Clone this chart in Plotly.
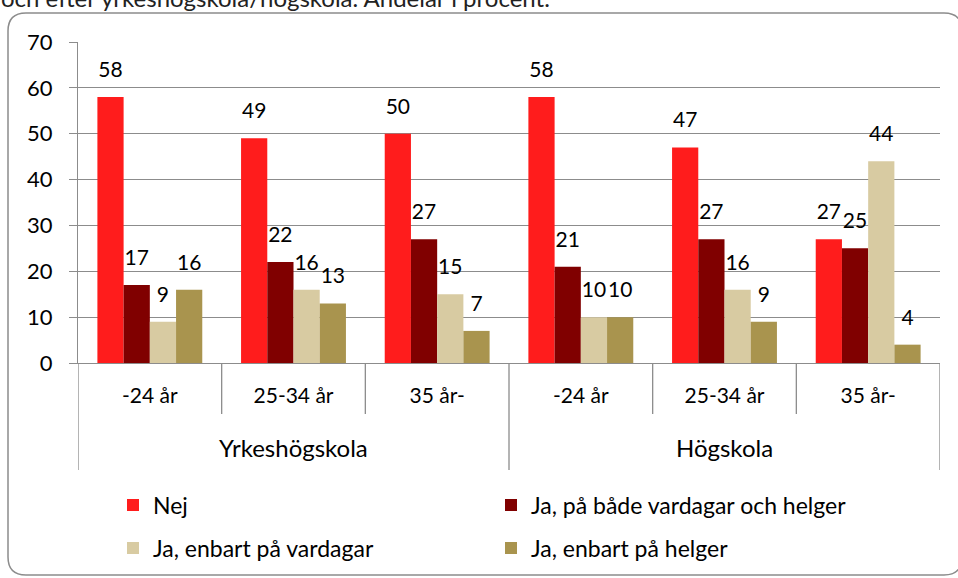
import plotly.graph_objects as go

groups = ["Yrkeshögskola", "Högskola"]
ages = ["-24 år", "25-34 år", "35 år-", "-24 år", "25-34 år", "35 år-"]

series_names = ["Nej", "Ja, på både vardagar och helger",
                "Ja, enbart på vardagar", "Ja, enbart på helger"]
nej = [58, 49, 50, 58, 47, 27]
ja_bada = [17, 22, 27, 21, 27, 25]
ja_vardagar = [9, 16, 15, 10, 16, 44]
ja_helger = [16, 13, 7, 10, 9, 4]
colors = ["#FF1C1C", "#800000", "#D8CBA2", "#A9944E"]
legend_ids = ["legend", "legend", "legend2", "legend2"]

y_ticks = [0, 10, 20, 30, 40, 50, 60, 70]

FONT = "Lato, 'Open Sans', sans-serif"
FS = 21
GRID = "#8C8C8C"
W, H = 958, 578
ML, MR, MT, MB = 78, 18, 42, 215
PW, PH = W - ML - MR, H - MT - MB

def px(x):
    return (x - ML) / PW

def py(y):
    return (H - MB - y) / PH

xpos = list(range(len(ages)))
n_per_group = len(ages) // len(groups)

fig = go.Figure()
for i, (name, vals, col, lg) in enumerate(zip(series_names, [nej, ja_bada, ja_vardagar, ja_helger], colors, legend_ids)):
    fig.add_trace(go.Bar(
        x=xpos, y=vals, name=name, offsetgroup=str(i), legend=lg,
        marker=dict(color=col, line=dict(width=0)),
    ))
for i, vals in enumerate([nej, ja_bada, ja_vardagar, ja_helger]):
    fig.add_trace(go.Scatter(
        x=xpos, y=vals, offsetgroup=str(i), mode="markers+text",
        marker=dict(size=22, opacity=0), text=[str(v) for v in vals],
        textposition="top center", showlegend=False, hoverinfo="skip",
        textfont=dict(family=FONT, size=FS, color="#000000"), cliponaxis=False,
    ))

# rounded border (right edge runs off the page, as in the original)
L, T, R, B, r = 8, 13, 962, 575, 18
rx, ry = r / PW, r / PH
path = (f"M {px(L)+rx},{py(T)} L {px(R)-rx},{py(T)} Q {px(R)},{py(T)} {px(R)},{py(T)-ry} "
        f"L {px(R)},{py(B)+ry} Q {px(R)},{py(B)} {px(R)-rx},{py(B)} "
        f"L {px(L)+rx},{py(B)} Q {px(L)},{py(B)} {px(L)},{py(B)+ry} "
        f"L {px(L)},{py(T)-ry} Q {px(L)},{py(T)} {px(L)+rx},{py(T)} Z")
fig.add_shape(type="path", path=path, xref="paper", yref="paper",
              line=dict(color="#8C8C8C", width=1.5), layer="below")

# category dividers under the x axis
for k in range(len(ages) + 1):
    xb = k - 0.5
    outer = (k % n_per_group == 0)
    fig.add_shape(type="line", xref="x", yref="paper", x0=xb, x1=xb,
                  y0=0, y1=py(470 if outer else 414),
                  line=dict(color=GRID, width=1.3))

# outer group labels
for g, name in enumerate(groups):
    fig.add_annotation(text=name, xref="x", yref="paper",
                       x=g * n_per_group + (n_per_group - 1) / 2, y=py(447),
                       xanchor="center", yanchor="middle", showarrow=False,
                       font=dict(family=FONT, size=24, color="#000000"))

fig.add_annotation(text="och efter yrkeshögskola/högskola. Andelar i procent.",
                   xref="paper", yref="paper", x=px(-1), y=py(-3),
                   xanchor="left", yanchor="middle", showarrow=False,
                   font=dict(family=FONT, size=24, color="#222222"))

leg_common = dict(orientation="h", xanchor="left", yanchor="middle",
                  xref="container", yref="container",
                  entrywidth=333, entrywidthmode="pixels",
                  font=dict(family=FONT, size=23, color="#000000"),
                  bgcolor="rgba(0,0,0,0)", itemclick=False, itemdoubleclick=False)

fig.update_layout(
    width=W, height=H,
    margin=dict(l=ML, r=MR, t=MT, b=MB),
    paper_bgcolor="white", plot_bgcolor="white",
    barmode="group", bargap=0.27, bargroupgap=0,
    scattermode="group", scattergap=0.27,
    font=dict(family=FONT, size=FS, color="#000000"),
    showlegend=True,
    legend=dict(x=113 / W, y=1 - 505 / H, **leg_common),
    legend2=dict(x=113 / W, y=1 - 548 / H, **leg_common),
)
fig.update_yaxes(range=[0, 70], tickvals=y_ticks, showgrid=True, gridcolor=GRID,
                 gridwidth=1.3, showline=True, linecolor=GRID, linewidth=1.3,
                 ticks="outside", ticklen=8, tickcolor=GRID, tickwidth=1.3, zeroline=False,
                 ticklabelstandoff=12,
                 tickfont=dict(family=FONT, size=22), automargin=False)
fig.update_xaxes(range=[-0.5, len(ages) - 0.5], tickvals=xpos, ticktext=ages,
                 showline=True, linecolor=GRID, linewidth=1.3, ticks="",
                 showgrid=False, zeroline=False, ticklabelstandoff=14,
                 tickfont=dict(family=FONT, size=FS), automargin=False)

fig.write_html("out.html", config={"displayModeBar": False},
               post_script="document.body.style.margin='0';document.body.style.overflow='hidden';")
